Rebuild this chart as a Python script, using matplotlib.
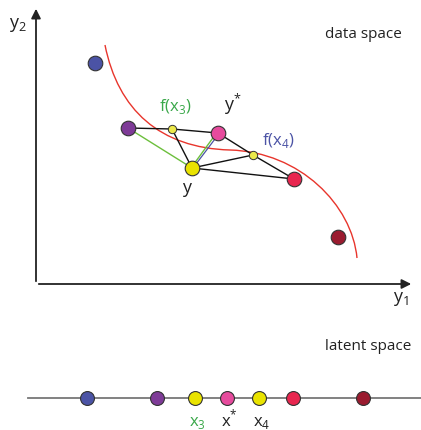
#!/usr/bin/env python3
"""Data space / latent space diagram."""

import matplotlib.pyplot as plt
from matplotlib.path import Path
from matplotlib.patches import PathPatch

# data space points (pixel coords of the diagram canvas)
point_names = ["blue", "purple", "yellow", "pink", "red", "darkred"]
point_x = [95, 128, 192, 218, 294, 338]
point_y = [63, 128, 168, 133, 179, 237]
point_colors = ["#4b53a5", "#7e3b97", "#e9e300", "#e64b9d", "#e8264f", "#9a1b2f"]

# projected points f(x3), f(x4)
proj_x = [172, 253]
proj_y = [129, 155]

# red curve as two cubic bezier segments (control points)
curve_x = [105, 118, 160, 230, 300, 352, 357]
curve_y = [45, 110, 148, 150, 152, 205, 258]

# latent space
latent_x = [87, 157, 195, 227, 259, 293, 363]
latent_colors = ["#4b53a5", "#7e3b97", "#e9e300", "#e64b9d", "#e9e300", "#e8264f", "#9a1b2f"]
LATENT_Y = 398

EDGE = "#333333"
GREEN = "#3aa84a"
BLUE = "#4b53a5"


def main() -> None:
    plt.rcParams["font.family"] = ["Open Sans", "DejaVu Sans"]
    fig = plt.figure(figsize=(4.21, 4.30), dpi=100)
    ax = fig.add_axes([0, 0, 1, 1])
    ax.set_xlim(0, 421)
    ax.set_ylim(430, 0)
    ax.axis("off")

    # axes arrows
    ax.annotate("", xy=(36, 6), xytext=(36, 284),
                arrowprops=dict(arrowstyle="-|>", color="#222222", lw=1.3, mutation_scale=14))
    ax.annotate("", xy=(414, 284), xytext=(36, 284),
                arrowprops=dict(arrowstyle="-|>", color="#222222", lw=1.3, mutation_scale=14))

    codes = [Path.MOVETO] + [Path.CURVE4] * (len(curve_x) - 1)
    curve = Path(list(zip(curve_x, curve_y)), codes)
    ax.add_patch(PathPatch(curve, facecolor="none", edgecolor="#e8352c", lw=1.0, zorder=2))

    pts = dict(zip(point_names, zip(point_x, point_y)))
    f3 = (proj_x[0], proj_y[0])
    f4 = (proj_x[1], proj_y[1])

    black_edges = [
        (pts["purple"], f3), (f3, pts["pink"]), (f3, pts["yellow"]),
        (pts["pink"], f4), (f4, pts["red"]), (pts["yellow"], f4),
        (pts["yellow"], pts["red"]),
    ]
    for a, b in black_edges:
        ax.plot([a[0], b[0]], [a[1], b[1]], color="#111111", lw=1.0, zorder=3)

    y0, ys = pts["yellow"], pts["pink"]
    ax.plot([pts["purple"][0], y0[0]], [pts["purple"][1], y0[1]], color="#6cbf3c", lw=1.0, zorder=3)
    ax.plot([y0[0] - 1, ys[0] - 1.5], [y0[1], ys[1]], color="#6cbf3c", lw=1.0, zorder=3)
    ax.plot([y0[0] + 1, ys[0] + 1.5], [y0[1], ys[1]], color="#4b53a5", lw=0.9, zorder=3)

    for x, y, c in zip(point_x, point_y, point_colors):
        ax.plot(x, y, "o", ms=10.5, mfc=c, mec=EDGE, mew=0.8, zorder=5)
    for x, y in zip(proj_x, proj_y):
        ax.plot(x, y, "o", ms=6, mfc="#ece84a", mec=EDGE, mew=0.7, zorder=5)

    ax.text(18, 25, "y$_\\mathregular{2}$", fontsize=13, ha="center", va="center", color="#222222")
    ax.text(401, 299, "y$_\\mathregular{1}$", fontsize=13, ha="center", va="center", color="#222222")
    ax.text(363, 34, "data space", fontsize=11, ha="center", va="center", color="#222222")
    ax.text(368, 346, "latent space", fontsize=11, ha="center", va="center", color="#222222")

    ax.text(175, 106, "f(x$_\\mathregular{3}$)", fontsize=12, ha="center", va="center", color=GREEN)
    ax.text(233, 104, "y$^\\mathregular{*}$", fontsize=13, ha="center", va="center", color="#222222")
    ax.text(278, 141, "f(x$_\\mathregular{4}$)", fontsize=12, ha="center", va="center", color=BLUE)
    ax.text(187, 188, "y", fontsize=13, ha="center", va="center", color="#222222")

    # latent line
    ax.plot([28, 421], [LATENT_Y, LATENT_Y], color="#777777", lw=1.3, zorder=1)
    for x, c in zip(latent_x, latent_colors):
        ax.plot(x, LATENT_Y, "o", ms=10, mfc=c, mec=EDGE, mew=0.8, zorder=5)

    ax.text(197, 426, "x$_\\mathregular{3}$", fontsize=12, ha="center", va="baseline", color=GREEN)
    ax.text(229, 426, "x$^\\mathregular{*}$", fontsize=12, ha="center", va="baseline", color="#222222")
    ax.text(262, 426, "x$_\\mathregular{4}$", fontsize=12, ha="center", va="baseline", color="#222222")

    fig.savefig("out.png", dpi=100)
    plt.close(fig)


if __name__ == "__main__":
    main()
